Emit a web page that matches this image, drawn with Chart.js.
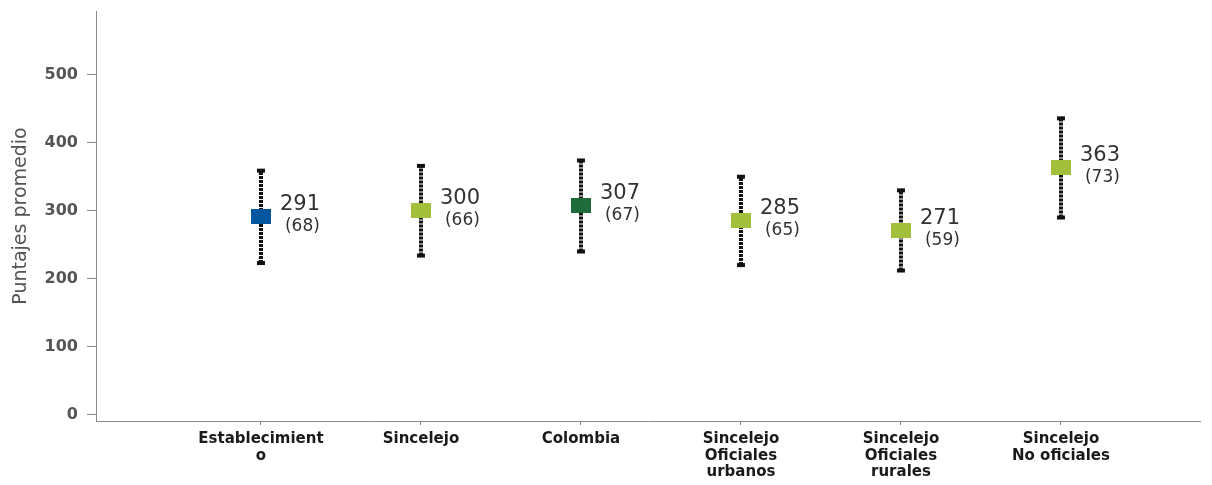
<!DOCTYPE html>
<html>
<head>
<meta charset="utf-8">
<script src="https://cdn.jsdelivr.net/npm/chart.js@4.4.1/dist/chart.umd.min.js"></script>
<style>
html,body{margin:0;padding:0;background:#fff;}
#wrap{width:1212px;height:485px;}
</style>
</head>
<body>
<div id="wrap"><canvas id="c" width="1212" height="485"></canvas></div>
<script>
const categories = [
  ["Establecimient", "o"],
  ["Sincelejo"],
  ["Colombia"],
  ["Sincelejo", "Oficiales", "urbanos"],
  ["Sincelejo", "Oficiales", "rurales"],
  ["Sincelejo", "No oficiales"]
];
const means = [291, 300, 307, 285, 271, 363];
const sds = [68, 66, 67, 65, 59, 73];
const markerColors = ["#03579F", "#A2C03B", "#1F6B3A", "#A2C03B", "#A2C03B", "#A2C03B"];
const yTicks = [0, 100, 200, 300, 400, 500];
const yTitle = "Puntajes promedio";

function makeBox(color) {
  const cv = document.createElement('canvas');
  cv.width = 20; cv.height = 15;
  const g = cv.getContext('2d');
  g.fillStyle = color;
  g.fillRect(0, 0, 20, 15);
  return cv;
}

const markerDataset = {
  type: 'scatter',
  order: 0,
  data: means.map((m, i) => ({x: i, y: m})),
  pointStyle: markerColors.map(makeBox),
  pointRadius: 10,
  showLine: false
};

const errorDatasets = means.map((m, i) => ({
  type: 'line',
  order: 1,
  data: [{x: i, y: m - sds[i]}, {x: i, y: m + sds[i]}],
  borderColor: '#111',
  borderWidth: 4,
  borderDash: [3, 1],
  pointStyle: 'line',
  pointRadius: 4,
  pointBorderWidth: 4,
  pointBorderColor: '#111',
  pointBackgroundColor: '#111',
  fill: false,
  tension: 0
}));

const labelPlugin = {
  id: 'valueLabels',
  afterDatasetsDraw(chart) {
    const ctx = chart.ctx;
    const xs = chart.scales.x, ys = chart.scales.y;
    ctx.save();
    ctx.fillStyle = '#333';
    ctx.textAlign = 'left';
    ctx.textBaseline = 'middle';
    means.forEach((m, i) => {
      const px = xs.getPixelForValue(i);
      const py = ys.getPixelForValue(m);
      ctx.font = '21px "DejaVu Sans"';
      ctx.fillText(String(m), px + 19, py - 12);
      ctx.font = '17px "DejaVu Sans"';
      ctx.fillText('(' + sds[i] + ')', px + 24, py + 10);
    });
    ctx.restore();
  }
};

new Chart(document.getElementById('c'), {
  data: { datasets: [markerDataset, ...errorDatasets] },
  options: {
    responsive: false,
    animation: false,
    layout: { padding: { top: 5, right: 12, left: 0, bottom: 0 } },
    plugins: { legend: { display: false }, tooltip: { enabled: false } },
    scales: {
      x: {
        type: 'linear',
        min: -1.031,
        max: 5.869,
        afterBuildTicks(s) { s.ticks = categories.map((c, i) => ({value: i})); },
        afterFit(s) { s.height = 64; s.paddingLeft = 0; s.paddingRight = 0; },
        border: { display: true, color: '#888', width: 1 },
        grid: { display: true, drawOnChartArea: false, drawTicks: true, tickLength: 4, color: '#888' },
        ticks: {
          autoSkip: false,
          maxRotation: 0,
          padding: 6,
          color: '#1a1a1a',
          font: { family: '"DejaVu Sans"', size: 15, weight: 'bold', lineHeight: 1.1 },
          callback(v) { return categories[v] || ''; }
        }
      },
      y: {
        type: 'linear',
        min: -9.5,
        max: 594,
        afterBuildTicks(s) { s.ticks = yTicks.map(v => ({value: v})); },
        afterFit(s) { s.width = 96; s.paddingTop = 0; s.paddingBottom = 0; },
        border: { display: true, color: '#888', width: 1 },
        grid: { display: true, drawOnChartArea: false, drawTicks: true, tickLength: 9, color: '#888' },
        ticks: {
          padding: 9,
          color: '#555',
          font: { family: '"DejaVu Sans"', size: 16, weight: 'bold' },
          callback(v) { return String(v); }
        },
        title: {
          display: true,
          text: yTitle,
          color: '#555',
          padding: { top: 10, bottom: 0 },
          font: { family: '"DejaVu Sans"', size: 19 }
        }
      }
    }
  },
  plugins: [labelPlugin]
});
</script>
</body>
</html>
